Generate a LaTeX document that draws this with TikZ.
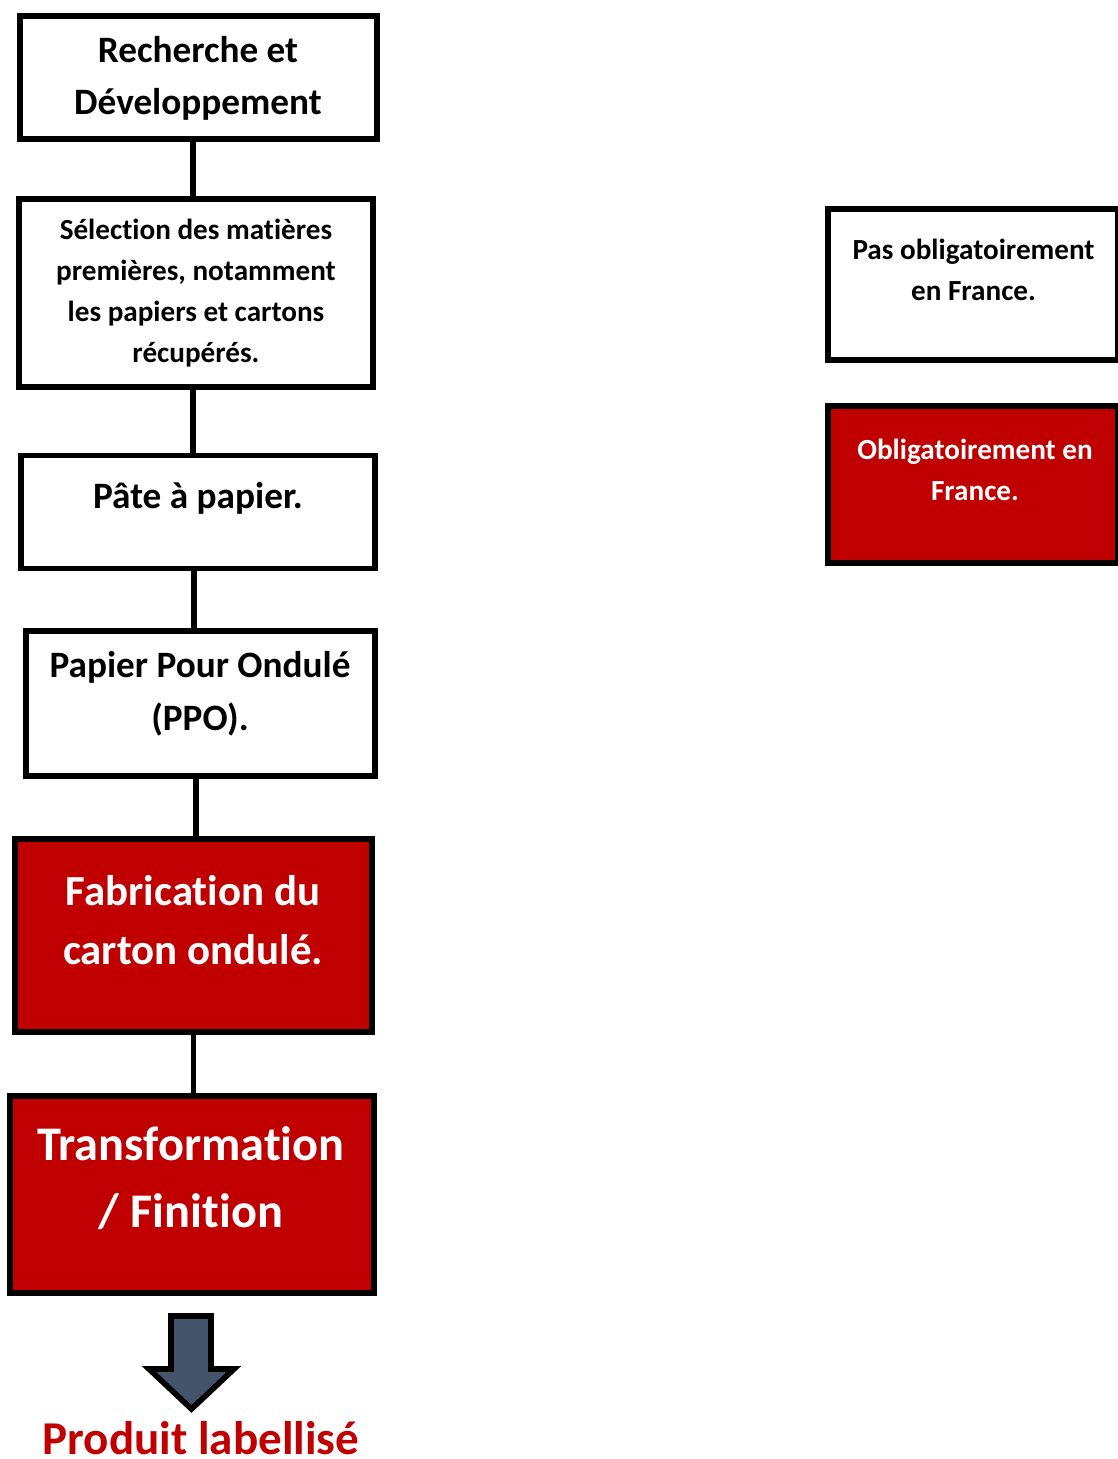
\documentclass[tikz,border=0pt]{standalone}
\usepackage{fontspec}
\setmainfont[Ligatures=NoCommon]{Carlito}
\usetikzlibrary{calc}
\definecolor{labelred}{HTML}{C00000}
\definecolor{slategrey}{HTML}{44546A}
\newcommand{\fsize}[2]{\fontsize{#1}{#2}\selectfont}
\tikzset{
  stagebox/.style={draw, line width=3.2pt, fill=white, inner sep=0pt},
  redstage/.style={stagebox, fill=labelred},
  stagetext/.style={align=center, inner sep=0pt},
  link/.style={line width=3.2pt},
}

\begin{document}
\begin{tikzpicture}[x=0.02cm, y=-0.02cm]
      \useasboundingbox (0,0) rectangle (1117,1459);

      % chain of stages
      \node[stagebox, minimum width=7.14cm, minimum height=2.46cm] (rd) at (198.5,77.5) {};
      \node[stagebox, minimum width=7.08cm, minimum height=3.76cm] (sel) at (196,293) {};
      \node[stagebox, minimum width=7.08cm, minimum height=2.26cm] (pate) at (198,512) {};
      \node[stagebox, minimum width=6.98cm, minimum height=2.90cm] (ppo) at (200.5,703.5) {};
      \node[redstage, minimum width=7.14cm, minimum height=3.86cm] (fab) at (193.5,935.5) {};
      \node[redstage, minimum width=7.28cm, minimum height=3.94cm] (tra) at (192,1194.5) {};

      \node[stagetext, font=\bfseries\fsize{21.2}{29.5}] (rdtxt) at (198,78) {Recherche et\\Développement};
      \node[stagetext, font=\bfseries\fsize{16.6}{23.2}] (seltxt) at (196,293) {Sélection des matières\\premières, notamment\\les papiers et cartons\\récupérés.};
      \node[stagetext, font=\bfseries\fsize{21.2}{30}] (patetxt) at (198,498) {Pâte à papier.};
      \node[stagetext, font=\bfseries\fsize{21.2}{30}] (ppotxt) at (200,694) {Papier Pour Ondulé\\(PPO).};
      \node[stagetext, font=\bfseries\fsize{24.4}{34}, text=white] (fabtxt) at (193,920) {Fabrication du\\carton ondulé.};
      \node[stagetext, font=\bfseries\fsize{27.5}{38.5}, text=white] (tratxt) at (191,1178) {Transformation\\/ Finition};

      \draw[link] ($(sel.north)+(-3,0)$) -- ($(sel.north |- rd.south)+(-3,0)$);
      \draw[link] ($(sel.south)+(-3,0)$) -- ($(sel.south |- pate.north)+(-3,0)$);
      \draw[link] ($(pate.south)+(-4,0)$) -- ($(pate.south |- ppo.north)+(-4,0)$);
      \draw[link] ($(fab.north)+(2.5,0)$) -- ($(fab.north |- ppo.south)+(2.5,0)$);
      \draw[link] (fab.south) -- (fab.south |- tra.north);

      % legend
      \node[stagebox, minimum width=5.8cm, minimum height=3.02cm] (pas) at (973,284.5) {};
      \node[redstage, minimum width=5.8cm, minimum height=3.14cm] (obl) at (973,484.5) {};
      \node[stagetext, font=\bfseries\fsize{16.6}{23.2}] (pastxt) at (973.5,270) {Pas obligatoirement\\en France.};
      \node[stagetext, font=\bfseries\fsize{16.6}{23.2}, text=white] (obltxt) at (975,470) {Obligatoirement en\\France.};

      % output
      \draw[line width=3.2pt, fill=slategrey, line join=miter]
        (171,1316) -- (211,1316) -- (211,1369) -- (234,1369) -- (191.5,1409)
        -- (149,1369) -- (171,1369) -- cycle;
      \node[font=\bfseries\fsize{26.8}{30}, text=labelred, anchor=base, inner sep=0pt] (prod) at (201,1454) {Produit labellisé};
\end{tikzpicture}
\end{document}
